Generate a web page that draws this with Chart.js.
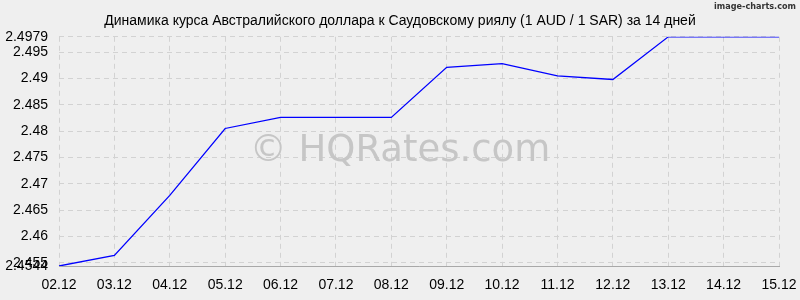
<!DOCTYPE html>
<html>
<head>
<meta charset="utf-8">
<script src="https://cdn.jsdelivr.net/npm/chart.js@4"></script>
<style>
  html, body { margin: 0; padding: 0; background: #efefef; }
  #wrap { width: 800px; height: 300px; }
</style>
</head>
<body>
<div id="wrap"><canvas id="chart" width="800" height="300"></canvas></div>
<script>
const days = ["02.12", "03.12", "04.12", "05.12", "06.12", "07.12", "08.12",
  "09.12", "10.12", "11.12", "12.12", "13.12", "14.12", "15.12"];
const rates = [2.4544, 2.4564, 2.4678, 2.4805, 2.4826, 2.4826, 2.4826,
  2.4921, 2.4928, 2.4905, 2.4898, 2.4979, 2.4979, 2.4979];
const yTicks = [2.4544, 2.455, 2.46, 2.465, 2.47, 2.475, 2.48, 2.485, 2.49, 2.495, 2.4979];
const yMin = 2.4544;
const yMax = 2.4979;

const titleText = "Динамика курса Австралийского доллара к Саудовскому риялу (1 AUD / 1 SAR) за 14 дней";

// watermark + credit text
const overlay = {
  id: "overlay",
  beforeDatasetsDraw(chart) {
    const ctx = chart.ctx;
    ctx.save();
    ctx.fillStyle = "#c6c6c6";
    ctx.font = "37px 'DejaVu Sans'";
    ctx.textAlign = "center";
    ctx.textBaseline = "alphabetic";
    ctx.fillText("© HQRates.com", 400, 161);
    ctx.restore();
  },
  afterDraw(chart) {
    const ctx = chart.ctx;
    ctx.save();
    ctx.fillStyle = "#333";
    ctx.font = "bold 9px 'DejaVu Sans Condensed'";
    ctx.textAlign = "right";
    ctx.textBaseline = "middle";
    ctx.fillText("image-charts.com", 796, 7);
    ctx.restore();
  }
};

const gridColor = "#d2d2d2";

new Chart(document.getElementById("chart"), {
  type: "line",
  data: {
    labels: days,
    datasets: [{
      data: rates,
      borderColor: "#0000ff",
      borderWidth: 1.3,
      pointRadius: 0,
      tension: 0,
      fill: false
    }]
  },
  options: {
    responsive: false,
    animation: false,
    layout: { padding: 0 },
    plugins: {
      legend: { display: false },
      tooltip: { enabled: false },
      title: {
        display: true,
        text: titleText,
        color: "#000",
        font: { family: "'Liberation Sans', Arial", size: 14, weight: "normal" },
        padding: { top: 13, bottom: 7 }
      }
    },
    scales: {
      x: {
        grid: { color: gridColor, drawTicks: false },
        border: { display: true, color: "#a8a8a8", dash: [5, 4] },
        ticks: {
          color: "#000",
          font: { family: "'Liberation Sans', Arial", size: 14 },
          padding: 11,
          maxRotation: 0,
          autoSkip: false
        },
        afterFit(scale) {
          scale.height = 34;
          scale.paddingLeft = 0;
          scale.paddingRight = 21;
        }
      },
      y: {
        min: yMin,
        max: yMax,
        grid: { color: gridColor, drawTicks: false },
        border: { display: false, dash: [5, 4] },
        afterBuildTicks(scale) {
          scale.ticks = yTicks.map(v => ({ value: v }));
        },
        ticks: {
          color: "#000",
          font: { family: "'Liberation Sans', Arial", size: 14 },
          padding: 11,
          callback: v => String(v)
        },
        afterFit(scale) { scale.width = 59; }
      }
    }
  },
  plugins: [overlay]
});
</script>
</body>
</html>
